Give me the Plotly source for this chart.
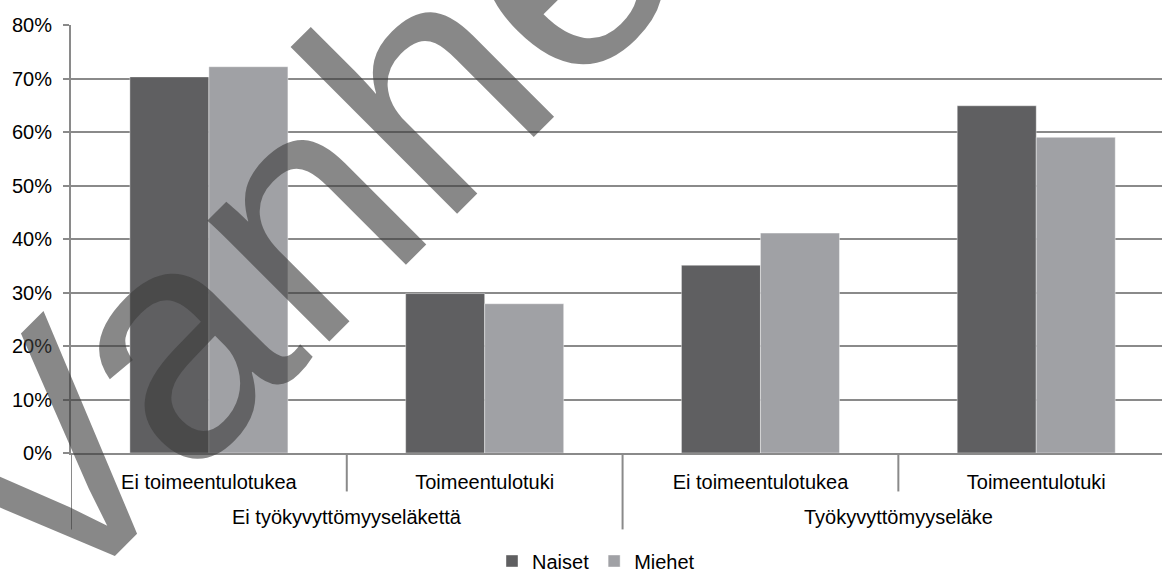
import plotly.graph_objects as go

# ---- data ----
groups = ["Ei työkyvyttömyyseläkettä", "Ei työkyvyttömyyseläkettä",
          "Työkyvyttömyyseläke", "Työkyvyttömyyseläke"]
subcats = ["Ei toimeentulotukea", "Toimeentulotuki",
           "Ei toimeentulotukea", "Toimeentulotuki"]
naiset = [70.3, 29.8, 35.1, 64.9]
miehet = [72.2, 27.9, 41.1, 59.0]
series_names = ["Naiset", "Miehet"]
y_tickvals = [0, 10, 20, 30, 40, 50, 60, 70, 80]
y_ticktext = ["0%", "10%", "20%", "30%", "40%", "50%", "60%", "70%", "80%"]
watermark = "Vanhentunut"

FONT = "Liberation Sans, Arial, sans-serif"
GRID = "#8a8a8a"
W, H = 1162, 571
ML, MT = 71, 25
PLOT_BOTTOM = 453.5
MB = H - PLOT_BOTTOM
PW = W - ML
PH = PLOT_BOTTOM - MT


def py(px):
    """pixel y -> paper y"""
    return (PLOT_BOTTOM - px) / PH


xpos = list(range(len(subcats)))

fig = go.Figure()
fig.add_trace(go.Bar(x=xpos, y=naiset, name=series_names[0],
                     marker=dict(color="#5f5f61", line=dict(width=0.8, color="rgba(255,255,255,0.5)"))))
fig.add_trace(go.Bar(x=xpos, y=miehet, name=series_names[1],
                     marker=dict(color="#a0a1a5", line=dict(width=0.8, color="rgba(255,255,255,0.5)"))))

# category separators (short between sub-categories, long between groups)
shapes = [dict(type="line", xref="x", yref="paper", x0=-0.5, x1=-0.5, y0=0, y1=py(530),
               line=dict(color=GRID, width=2))]
for i in range(1, len(subcats)):
    long_sep = groups[i] != groups[i - 1]
    shapes.append(dict(type="line", xref="x", yref="paper", x0=i - 0.5, x1=i - 0.5,
                       y0=0, y1=py(530 if long_sep else 492),
                       line=dict(color=GRID, width=2)))

annotations = []
seen = []
for g in groups:
    if g not in seen:
        seen.append(g)
for g in seen:
    idx = [i for i, gg in enumerate(groups) if gg == g]
    annotations.append(dict(text=g, xref="x", yref="paper",
                            x=sum(idx) / len(idx), y=py(518),
                            xanchor="center", yanchor="middle", showarrow=False,
                            font=dict(family=FONT, size=20, color="#000000")))

# watermark (pixel centre -> paper coords)
wx, wy = 613, -102
annotations.append(dict(text=watermark, xref="paper", yref="paper",
                        x=(wx - ML) / PW, y=py(wy),
                        xanchor="center", yanchor="middle", showarrow=False,
                        textangle=-45,
                        font=dict(family=FONT, size=325, color="rgba(61,61,61,0.61)")))

fig.update_layout(
    width=W, height=H,
    margin=dict(l=ML, r=0, t=MT, b=MB, autoexpand=False),
    paper_bgcolor="white", plot_bgcolor="white",
    barmode="group", bargap=0.427, bargroupgap=0,
    font=dict(family=FONT, size=20, color="#000000"),
    showlegend=True,
    legend=dict(orientation="h", xref="container", yref="container",
                x=596 / W, xanchor="center",
                y=1 - 561 / H, yanchor="middle",
                font=dict(size=20, color="#000000"), itemwidth=30,
                traceorder="normal", bgcolor="rgba(0,0,0,0)"),
    xaxis=dict(range=[-0.5, 3.456], tickvals=xpos, ticktext=subcats,
               showline=True, linecolor=GRID, linewidth=2,
               ticks="", showgrid=False, zeroline=False, automargin=False,
               ticklabelstandoff=10,
               tickfont=dict(size=20, color="#000000")),
    yaxis=dict(range=[0, 80], tickvals=y_tickvals, ticktext=y_ticktext,
               showgrid=True, gridcolor=GRID, gridwidth=1.5,
               showline=True, linecolor=GRID, linewidth=2,
               ticks="outside", ticklen=6, tickcolor=GRID, tickwidth=1.5,
               ticklabelstandoff=7, automargin=False,
               zeroline=False, tickfont=dict(size=20, color="#000000")),
    shapes=shapes,
    annotations=annotations,
)

fig.write_html("out.html", config={"displayModeBar": False},
               post_script="document.body.style.margin='0';document.body.style.padding='0';")
